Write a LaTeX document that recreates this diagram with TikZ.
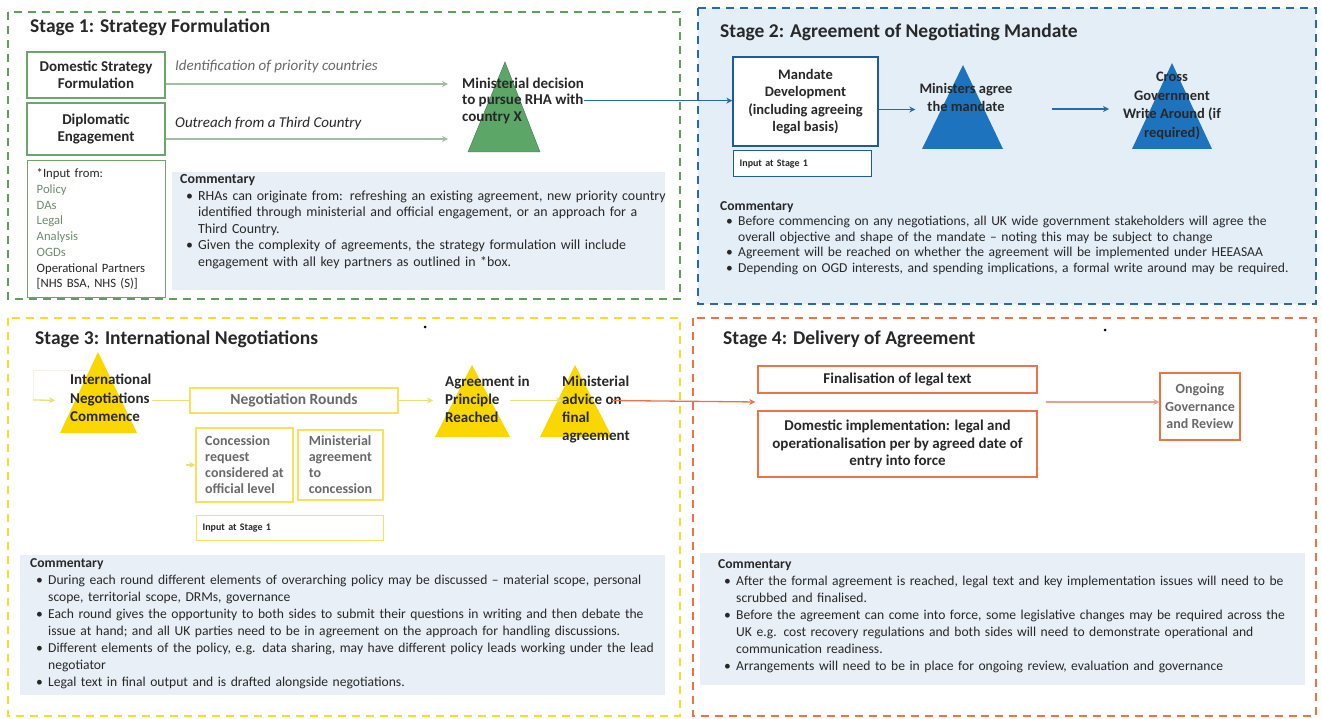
\documentclass[tikz,border=0pt]{standalone}
\usepackage{fontspec}
\setmainfont{Carlito}
\usetikzlibrary{arrows.meta,calc}

\definecolor{txt}{RGB}{40,40,40}
\definecolor{greytxt}{RGB}{105,105,105}
\definecolor{grnline}{RGB}{92,160,92}
\definecolor{grnbox}{RGB}{110,165,110}
\definecolor{grnfill}{RGB}{92,166,104}
\definecolor{grnarrow}{RGB}{160,190,160}
\definecolor{grntxt}{RGB}{110,140,110}
\definecolor{bluline}{RGB}{38,105,175}
\definecolor{blubox}{RGB}{30,90,160}
\definecolor{blufill}{RGB}{30,115,190}
\definecolor{blubg}{RGB}{228,238,247}
\definecolor{ylwline}{RGB}{245,222,40}
\definecolor{ylwbox}{RGB}{245,228,90}
\definecolor{ylwfill}{RGB}{250,215,0}
\definecolor{ylwarrow}{RGB}{232,225,120}
\definecolor{ylwfaint}{RGB}{246,244,225}
\definecolor{orgline}{RGB}{235,115,70}
\definecolor{orgarrow}{RGB}{235,160,140}
\definecolor{cmtbg}{RGB}{233,239,246}

\newcommand{\bulpt}[1]{\par\hangindent=18pt\hangafter=1\noindent\hspace*{6pt}\makebox[12pt][l]{\textbullet}#1}

\begin{document}
\begin{tikzpicture}[x=1pt,y=-1pt,
    frame/.style={line width=2pt, dash pattern=on 8pt off 6pt},
    title/.style={anchor=base west, inner sep=0pt, text=txt, font=\fontsize{19.5}{23}\selectfont\bfseries},
    box/.style={draw, line width=1.4pt, fill=white, inner sep=1pt, align=center, text=txt, font=\fontsize{15}{17.5}\selectfont\bfseries},
    tritext/.style={anchor=north west, inner sep=0pt, align=left, text=txt, font=\fontsize{15}{18}\selectfont\bfseries},
    cmt/.style={anchor=north west, inner sep=0pt, align=left, text=txt, text width=640pt, font=\fontsize{13.6}{17}\selectfont},
    link/.style={-{Stealth[length=6pt,width=6pt]}, line width=1.3pt}]
  \useasboundingbox (0,0) rectangle (1322,719);
  \fill[white] (0,0) rectangle (1322,719);

  % Stage frames
  \draw[frame, grnline] (8,12) rectangle (680,299);
  \filldraw[frame, draw=bluline, fill=blubg] (698,8) rectangle (1316,304);
  \draw[frame, ylwline] (8,318) rectangle (680,716);
  \draw[frame, orgline] (693,318) rectangle (1316,716);

  % Commentary backgrounds
  \fill[cmtbg] (172,172) rectangle (665,290);
  \fill[cmtbg] (20,555) rectangle (665,695);
  \fill[cmtbg] (700,553) rectangle (1305,685);

  % Titles
  \node[title] (s1) at (30,33) {Stage 1: Strategy Formulation};
  \node[title] (s2) at (720,38) {Stage 2: Agreement of Negotiating Mandate};
  \node[title] (s3) at (35,344) {Stage 3: International Negotiations};
  \node[title] (s4) at (723,344) {Stage 4: Delivery of Agreement};
  \fill (425,327) circle (1.5);
  \fill (1105,330) circle (1.5);

  % Faint loop into stage 3
  \coordinate (s3loop) at (88,370);
  \draw[ylwfaint, line width=1pt] (s3loop) -| (33,400);

  % Triangles
  \coordinate (t1a) at (505,62);  \coordinate (t1l) at (468,152); \coordinate (t1r) at (540,152);
  \coordinate (t2a) at (963,65);  \coordinate (t2l) at (922,149); \coordinate (t2r) at (1003,149);
  \coordinate (t3a) at (1172,63); \coordinate (t3l) at (1132,149); \coordinate (t3r) at (1212,149);
  \coordinate (t4a) at (98,352);  \coordinate (t4l) at (60,433);  \coordinate (t4r) at (137,433);
  \coordinate (t5a) at (472,365); \coordinate (t5l) at (435,437); \coordinate (t5r) at (510,437);
  \coordinate (t6a) at (575,365); \coordinate (t6l) at (540,437); \coordinate (t6r) at (612,437);
  \filldraw[fill=grnfill, draw=grnfill!70!black] (t1a) -- (t1r) -- (t1l) -- cycle;
  \fill[blufill] (t2a) -- (t2r) -- (t2l) -- cycle;
  \fill[blufill] (t3a) -- (t3r) -- (t3l) -- cycle;
  \foreach \t in {t4,t5,t6}
    \fill[ylwfill] (\t a) -- (\t r) -- (\t l) -- cycle;

  % Stage 1
  \node[box, draw=grnbox, minimum width=138pt, minimum height=46pt] (dom) at (96,75) {Domestic Strategy\\Formulation};
  \node[box, draw=grnbox, minimum width=138pt, minimum height=52pt] (dip) at (96,129) {Diplomatic\\Engagement};
  \node[box, draw=grnbox, anchor=north west, minimum width=138pt, minimum height=137pt, inner xsep=9pt,
        align=left, text width=120pt, text=grntxt, font=\fontsize{12.7}{15.7}\selectfont] (inp1) at (27,160)
        {\textcolor{txt}{*Input from:}\\Policy\\DAs\\Legal\\Analysis\\OGDs\\\textcolor{txt}{Operational Partners}\\\textcolor{txt}{[NHS BSA, NHS (S)]}};
  \node[anchor=base west, inner sep=0pt, text=greytxt, font=\fontsize{15}{18}\selectfont\itshape] (prio) at (175,71) {Identification of priority countries};
  \node[anchor=base west, inner sep=0pt, text=txt, font=\fontsize{15}{18}\selectfont\itshape] (outr) at (175,128) {Outreach from a Third Country};
  \node[tritext, font=\fontsize{15}{16.5}\selectfont\bfseries] (dec) at (462,77.5) {Ministerial decision\\to pursue RHA with\\country X};
  \draw[link, grnarrow, shorten >=14pt] ([yshift=-9pt]dom.east) -- ([yshift=-9pt]dom.east -| dec.west);
  \draw[link, grnarrow, shorten >=14pt] ([yshift=-10pt]dip.east) -- ([yshift=-10pt]dip.east -| dec.west);
  \node[cmt, font=\fontsize{13.9}{16.5}\selectfont] (cmt1) at (180,174.5) {\noindent\textbf{Commentary}
    \bulpt{RHAs can originate from: refreshing an existing agreement, new priority country\newline identified through ministerial and official engagement, or an approach for a\newline Third Country.}
    \bulpt{Given the complexity of agreements, the strategy formulation will include\newline engagement with all key partners as outlined in *box.}\par};

  % Stage 2
  \node[box, draw=blubox, minimum width=145pt, minimum height=89pt, font=\fontsize{14.5}{17.5}\selectfont\bfseries] (mand) at (805.5,101.5) {Mandate\\Development\\(including agreeing\\legal basis)};
  \node[box, draw=blubox, anchor=north west, minimum width=138pt, minimum height=26pt, inner xsep=6pt,
        align=left, text width=126pt, font=\fontsize{10}{12}\selectfont\bfseries] (inp2) at (733,150) {Input at Stage 1};
  \node[tritext, anchor=north, align=center, font=\fontsize{14.5}{18}\selectfont\bfseries] (agree) at (966,83) {Ministers agree\\the mandate};
  \node[tritext, anchor=north, align=center, font=\fontsize{14.5}{18.5}\selectfont\bfseries] (cross) at (1172,72) {Cross\\Government\\Write Around (if\\required)};
  \coordinate (tri2out) at (1052,109);
  \coordinate (tri3in) at (1109,109);
  \draw[link, bluline] (dec.east) -- (dec.east -| mand.west);
  \draw[link, bluline, shorten >=4pt] ([yshift=-8pt]mand.east) -- ([yshift=-8pt]mand.east -| agree.west);
  \draw[link, bluline] (tri2out) -- (tri3in);
  \node[cmt, font=\fontsize{13.6}{15.6}\selectfont] (cmt2) at (720,201) {\noindent\textbf{Commentary}
    \bulpt{Before commencing on any negotiations, all UK wide government stakeholders will agree the\newline overall objective and shape of the mandate -- noting this may be subject to change}
    \bulpt{Agreement will be reached on whether the agreement will be implemented under HEEASAA}
    \bulpt{Depending on OGD interests, and spending implications, a formal write around may be required.}\par};

  % Stage 3
  \node[tritext, font=\fontsize{15}{18.5}\selectfont\bfseries] (intl) at (70,374) {International\\Negotiations\\Commence};
  \node[box, draw=ylwbox, minimum width=208pt, minimum height=25pt, text=greytxt, font=\fontsize{15.5}{17.5}\selectfont\bfseries] (neg) at (294,400.5) {Negotiation Rounds};
  \node[box, draw=ylwbox, minimum width=97pt, minimum height=74pt, align=left, text=greytxt,
        font=\fontsize{14}{16}\selectfont\bfseries] (conc) at (244.5,465) {Concession\\request\\considered at\\official level};
  \node[box, draw=ylwbox, minimum width=85pt, minimum height=70pt, align=left, text=greytxt,
        font=\fontsize{14}{16}\selectfont\bfseries] (mini) at (340.5,465) {Ministerial\\agreement\\to\\concession};
  \node[box, draw=ylwbox, anchor=north west, minimum width=187pt, minimum height=25pt, inner xsep=6pt,
        align=left, text width=175pt, font=\fontsize{10}{12}\selectfont\bfseries] (inp3) at (196,515) {Input at Stage 1};
  \node[tritext] (aip) at (445,375.5) {Agreement in\\Principle\\Reached};
  \node[tritext] (madv) at (562,375.5) {Ministerial\\advice on\\final\\agreement};
  \draw[link, ylwarrow, shorten >=15pt] (33,400) -- (intl.west |- neg.west);
  \draw[ylwarrow, line width=1.3pt] (intl.east |- neg.west) -- (neg.west);
  \draw[link, ylwarrow, shorten >=12pt] (neg.east) -- (neg.east -| aip.west);
  \draw[link, ylwarrow] (t5r |- neg.east) -- (madv.west |- neg.east);
  \draw[link, ylwarrow] ([xshift=-9pt]conc.west) -- (conc.west);
  \node[cmt] (cmt3) at (30,558) {\noindent\textbf{Commentary}
    \bulpt{During each round different elements of overarching policy may be discussed -- material scope, personal\newline scope, territorial scope, DRMs, governance}
    \bulpt{Each round gives the opportunity to both sides to submit their questions in writing and then debate the\newline issue at hand; and all UK parties need to be in agreement on the approach for handling discussions.}
    \bulpt{Different elements of the policy, e.g. data sharing, may have different policy leads working under the lead\newline negotiator}
    \bulpt{Legal text in final output and is drafted alongside negotiations.}\par};

  % Stage 4
  \node[box, draw=orgline, minimum width=279pt, minimum height=27pt] (fin) at (897.5,379.5) {Finalisation of legal text};
  \node[box, draw=orgline, minimum width=279pt, minimum height=66pt] (impl) at (897.5,444) {Domestic implementation: legal and\\operationalisation per by agreed date of\\entry into force};
  \node[box, draw=orgline, minimum width=80pt, minimum height=67pt, text=greytxt, font=\fontsize{14}{17.5}\selectfont\bfseries] (ong) at (1200,406.5) {Ongoing\\Governance\\and Review};
  \coordinate (s4in) at ($(fin.south west)!0.5!(impl.north west)$);
  \coordinate (s4out) at ($(fin.south east)!0.5!(impl.north east)$);
  \draw[link, orgline, shorten >=2pt] (t6r |- neg.east) -- (s4in);
  \draw[link, orgarrow, shorten <=8pt] (s4out) -- (s4out -| ong.west);
  \node[cmt] (cmt4) at (718,559) {\noindent\textbf{Commentary}
    \bulpt{After the formal agreement is reached, legal text and key implementation issues will need to be\newline scrubbed and finalised.}
    \bulpt{Before the agreement can come into force, some legislative changes may be required across the\newline UK e.g. cost recovery regulations and both sides will need to demonstrate operational and\newline communication readiness.}
    \bulpt{Arrangements will need to be in place for ongoing review, evaluation and governance}\par};
\end{tikzpicture}
\end{document}
